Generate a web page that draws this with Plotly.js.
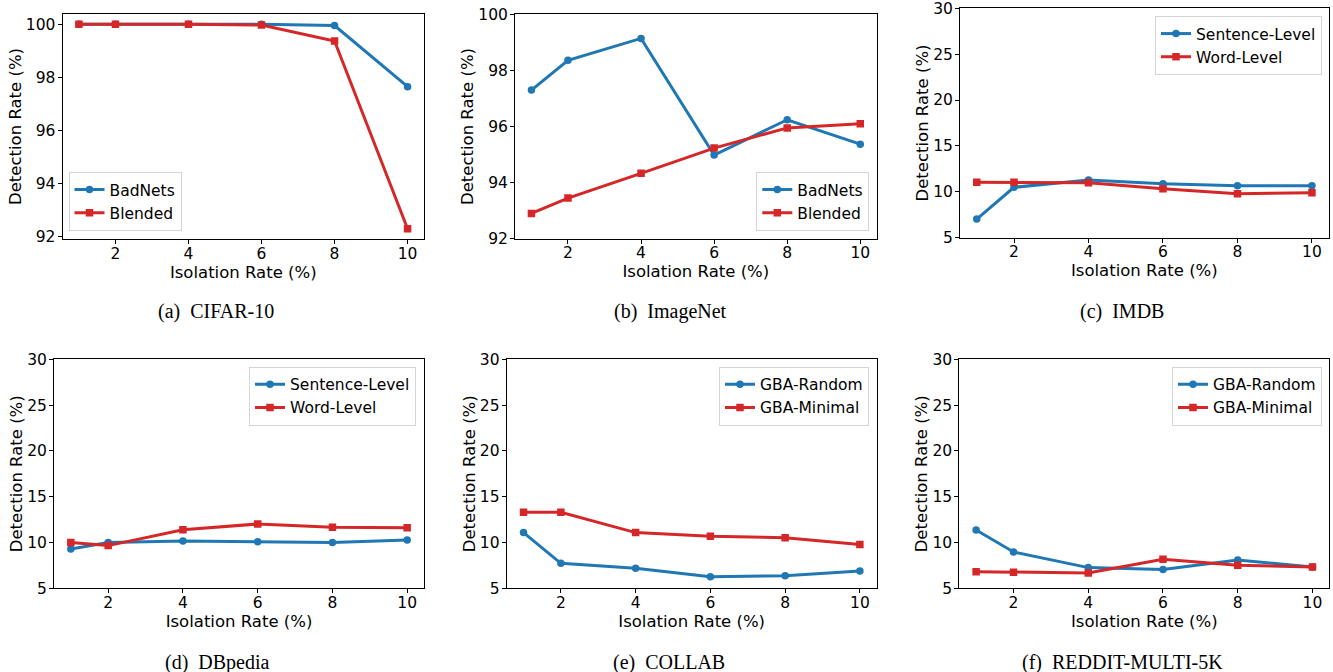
<!DOCTYPE html>
<html>
<head>
<meta charset="utf-8">
<script src="https://cdn.plot.ly/plotly-3.0.1.min.js"></script>
<style>
  html, body { margin: 0; padding: 0; background: #ffffff; }
  #chart { width: 1333px; height: 672px; }
</style>
</head>
<body>
<div id="chart"></div>
<script>
// ---------------- data ----------------
const isolationRates = [1, 2, 4, 6, 8, 10];
const xTicks = [2, 4, 6, 8, 10];

const cifarBadNets = [100, 100, 100, 100, 99.95, 97.65];
const cifarBlended = [100, 100, 100, 99.97, 99.37, 92.3];

const imagenetBadNets = [97.3, 98.36, 99.14, 94.98, 96.24, 95.37];
const imagenetBlended = [92.9, 93.45, 94.33, 95.23, 95.95, 96.1];

const imdbSentence = [7.03, 10.49, 11.29, 10.89, 10.67, 10.65];
const imdbWord = [11.03, 11.03, 11.0, 10.34, 9.8, 9.9];

const dbpediaSentence = [9.29, 9.99, 10.17, 10.09, 9.99, 10.28];
const dbpediaWord = [9.99, 9.66, 11.4, 12.02, 11.66, 11.62];

const collabRandom = [11.08, 7.73, 7.18, 6.27, 6.38, 6.89];
const collabMinimal = [13.3, 13.3, 11.08, 10.68, 10.53, 9.77];

const redditRandom = [11.37, 8.97, 7.26, 7.04, 8.09, 7.33];
const redditMinimal = [6.82, 6.75, 6.67, 8.17, 7.51, 7.33];

const seriesNames = {
  image: ["BadNets", "Blended"],
  text: ["Sentence-Level", "Word-Level"],
  graph: ["GBA-Random", "GBA-Minimal"]
};
const captions = ["(a)\u00a0 CIFAR-10", "(b)\u00a0 ImageNet", "(c)\u00a0 IMDB",
                  "(d)\u00a0 DBpedia", "(e)\u00a0 COLLAB", "(f)\u00a0 REDDIT-MULTI-5K"];
const xTitle = "Isolation Rate (%)";
const yTitle = "Detection Rate (%)";

// ---------------- style ----------------
const BLUE = "#1f77b4";
const RED = "#d62728";
const W = 1333, H = 672;

const panels = [
  {a: cifarBadNets, b: cifarBlended, names: seriesNames.image, px: [62.5, 424], py: [14, 239], yr: [91.915, 100.385], yt: [92, 94, 96, 98, 100], leg: {x: 68.5, y: 231, xa: "left", ya: "bottom"}},
  {a: imagenetBadNets, b: imagenetBlended, names: seriesNames.image, px: [515, 876.7], py: [14.3, 238.7], yr: [92, 100], yt: [92, 94, 96, 98, 100], leg: {x: 869.3, y: 231, xa: "right", ya: "bottom"}},
  {a: imdbSentence, b: imdbWord, names: seriesNames.text, px: [960, 1328.7], py: [8.3, 237.7], yr: [5, 30], yt: [5, 10, 15, 20, 25, 30], leg: {x: 1322, y: 16, xa: "right", ya: "top"}},
  {a: dbpediaSentence, b: dbpediaWord, names: seriesNames.text, px: [54, 424], py: [359.3, 588.3], yr: [5, 30], yt: [5, 10, 15, 20, 25, 30], leg: {x: 416, y: 366.7, xa: "right", ya: "top"}},
  {a: collabRandom, b: collabMinimal, names: seriesNames.graph, px: [506.7, 876.7], py: [359.3, 588.3], yr: [5, 30], yt: [5, 10, 15, 20, 25, 30], leg: {x: 869, y: 366.7, xa: "right", ya: "top"}},
  {a: redditRandom, b: redditMinimal, names: seriesNames.graph, px: [959.3, 1329.3], py: [359.3, 588.3], yr: [5, 30], yt: [5, 10, 15, 20, 25, 30], leg: {x: 1322, y: 366.7, xa: "right", ya: "top"}}
];
const captionPos = [[216, 311], [670, 311], [1122, 311], [217, 662], [669, 662], [1122.7, 662]];

const tickFont = {family: "DejaVu Sans, sans-serif", size: 15.5, color: "#000000"};
const titleFont = {family: "DejaVu Sans, sans-serif", size: 16.5, color: "#000000"};

const data = [];
const layout = {
  width: W, height: H,
  margin: {l: 0, r: 0, t: 0, b: 0},
  paper_bgcolor: "#ffffff",
  plot_bgcolor: "#ffffff",
  showlegend: true,
  annotations: []
};

panels.forEach((p, i) => {
  const n = i + 1;
  const xk = n === 1 ? "x" : "x" + n;
  const yk = n === 1 ? "y" : "y" + n;
  const lk = n === 1 ? "legend" : "legend" + n;
  const xa = n === 1 ? "xaxis" : "xaxis" + n;
  const ya = n === 1 ? "yaxis" : "yaxis" + n;

  data.push({
    x: isolationRates, y: p.a, name: p.names[0], mode: "lines+markers",
    xaxis: xk, yaxis: yk, legend: lk,
    line: {color: BLUE, width: 3},
    marker: {color: BLUE, size: 7.5, symbol: "circle"}
  });
  data.push({
    x: isolationRates, y: p.b, name: p.names[1], mode: "lines+markers",
    xaxis: xk, yaxis: yk, legend: lk,
    line: {color: RED, width: 3},
    marker: {color: RED, size: 7.5, symbol: "square"}
  });

  const common = {
    showline: true, mirror: true, linecolor: "#000000", linewidth: 1,
    ticks: "outside", ticklen: 4, tickwidth: 1, tickcolor: "#000000",
    showgrid: false, zeroline: false, tickfont: tickFont, fixedrange: true,
    ticklabeloverflow: "allow"
  };
  layout[xa] = Object.assign({}, common, {
    domain: [p.px[0] / W, p.px[1] / W], anchor: yk,
    range: [0.55, 10.45], tickmode: "array", tickvals: xTicks,
    ticklabelstandoff: -4,
    title: {text: xTitle, font: titleFont, standoff: 1}
  });
  layout[ya] = Object.assign({}, common, {
    domain: [1 - p.py[1] / H, 1 - p.py[0] / H], anchor: xk,
    range: p.yr, tickmode: "array", tickvals: p.yt,
    ticklabelstandoff: -1,
    title: {text: yTitle, font: titleFont, standoff: 0}
  });

  layout[lk] = {
    x: p.leg.x / W, y: 1 - p.leg.y / H, xanchor: p.leg.xa, yanchor: p.leg.ya,
    bgcolor: "rgba(255,255,255,0.8)", bordercolor: "#d5d5d5", borderwidth: 1,
    font: {family: "DejaVu Sans, sans-serif", size: 15.5, color: "#000000"},
    itemwidth: 30, traceorder: "normal"
  };

  layout.annotations.push({
    text: captions[i], xref: "paper", yref: "paper",
    x: captionPos[i][0] / W, y: 1 - captionPos[i][1] / H,
    xanchor: "center", yanchor: "middle", showarrow: false,
    font: {family: "Liberation Serif, Times New Roman, serif", size: 20, color: "#000000"}
  });
});

Plotly.newPlot("chart", data, layout, {displayModeBar: false, staticPlot: true});
</script>
</body>
</html>
